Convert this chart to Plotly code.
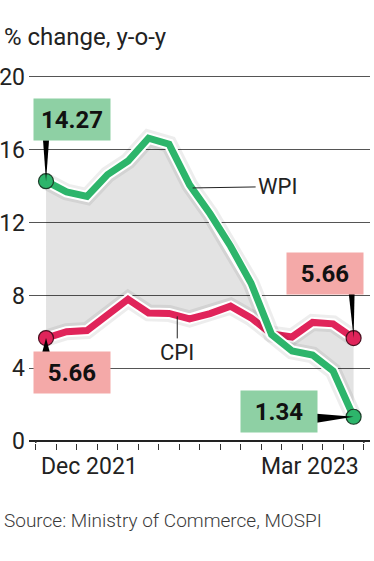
import plotly.graph_objects as go

months = ["Dec 2021", "Jan 2022", "Feb 2022", "Mar 2022", "Apr 2022", "May 2022", "Jun 2022",
          "Jul 2022", "Aug 2022", "Sep 2022", "Oct 2022", "Nov 2022", "Dec 2022",
          "Jan 2023", "Feb 2023", "Mar 2023"]
wpi = [14.27, 13.68, 13.43, 14.63, 15.38, 16.63, 16.3, 14.07, 12.48, 10.7, 8.67, 5.85, 4.95, 4.73, 3.85, 1.34]
cpi = [5.66, 6.01, 6.07, 6.95, 7.79, 7.04, 7.01, 6.71, 7.0, 7.41, 6.77, 5.88, 5.72, 6.52, 6.44, 5.66]
y_ticks = [0, 4, 8, 12, 16, 20]
x_labels = ["Dec 2021", "Mar 2023"]

FONT = "Roboto, Arial, sans-serif"
GREEN = "#2db56b"
RED = "#e0245a"
GREEN_BOX = "#8ed0a4"
RED_BOX = "#f4a9a8"

idx = list(range(len(months)))
n = len(months)

fig = go.Figure()

# fill between the two series
fig.add_trace(go.Scatter(x=idx, y=wpi, mode="lines", line=dict(width=0), hoverinfo="skip", showlegend=False))
fig.add_trace(go.Scatter(x=idx, y=cpi, mode="lines", line=dict(width=0), fill="tonexty",
                         fillcolor="rgba(0,0,0,0.11)", hoverinfo="skip", showlegend=False))

# shadows, outlines, lines
for series, col in [(cpi, RED), (wpi, GREEN)]:
    fig.add_trace(go.Scatter(x=idx, y=series, mode="lines", line=dict(width=17, color="rgba(0,0,0,0.07)"),
                             hoverinfo="skip", showlegend=False))
    fig.add_trace(go.Scatter(x=idx, y=series, mode="lines", line=dict(width=11, color="white"),
                             hoverinfo="skip", showlegend=False))
    fig.add_trace(go.Scatter(x=idx, y=series, mode="lines", line=dict(width=7, color=col),
                             hoverinfo="skip", showlegend=False))

# axis end bars (below the zero line)
for xv in [-0.5, n - 0.5]:
    fig.add_trace(go.Scatter(x=[xv, xv], y=[0, -2.4], mode="lines", line=dict(width=1.5, color="#333"),
                             cliponaxis=False, hoverinfo="skip", showlegend=False))

# pointers (triangles in pixel space anchored at the data points)
pointers = [
    (0, wpi[0], "M -3 41 L 3 41 L 0 0 Z"),
    (0, cpi[0], "M -4 -15 L 4 -15 L 0 0 Z"),
    (n - 1, cpi[-1], "M -5 46 L 1 46 L 0 0 Z"),
    (n - 1, wpi[-1], "M -37 3 L -37 -6 L 0 0 Z"),
]
for xv, yv, p in pointers:
    fig.add_shape(type="path", xref="x", yref="y", xsizemode="pixel", ysizemode="pixel",
                  xanchor=xv, yanchor=yv, path=p, fillcolor="black", line=dict(width=0))

# end markers
fig.add_trace(go.Scatter(x=[0, n - 1], y=[wpi[0], wpi[-1]], mode="markers",
                         marker=dict(size=15, color=GREEN, line=dict(width=1.2, color="#1b3d28")),
                         cliponaxis=False, hoverinfo="skip", showlegend=False))
fig.add_trace(go.Scatter(x=[0, n - 1], y=[cpi[0], cpi[-1]], mode="markers",
                         marker=dict(size=15, color=RED, line=dict(width=1.2, color="#4a1020")),
                         cliponaxis=False, hoverinfo="skip", showlegend=False))

# value boxes
boxes = [
    (0, wpi[0], wpi[0], GREEN_BOX, 26, 62),
    (0, cpi[0], cpi[0], RED_BOX, 26, -34),
    (n - 1, cpi[-1], cpi[-1], RED_BOX, -29, 65),
    (n - 1, wpi[-1], wpi[-1], GREEN_BOX, -75, 5),
]
for xv, yv, val, bg, xs, ys in boxes:
    fig.add_annotation(x=xv, y=yv, text=f"<b>{val:.2f}</b>", showarrow=False, xshift=xs, yshift=ys,
                       width=76, height=41, bgcolor=bg, borderpad=0,
                       font=dict(family=FONT, size=24, color="#111"))

# series labels with leader lines
fig.add_annotation(x=7.15, y=13.9, xref="x", yref="y", text="WPI", showarrow=True,
                   ax=63, ay=-1, axref="pixel", ayref="pixel", arrowhead=0, arrowwidth=1,
                   arrowcolor="#222", standoff=0, startstandoff=0, xanchor="left",
                   font=dict(family=FONT, size=22, color="#222"))
fig.add_annotation(x=6.4, y=6.85, xref="x", yref="y", text="CPI", showarrow=True,
                   ax=0, ay=22, arrowhead=0, arrowwidth=1, arrowcolor="#222", standoff=0,
                   yanchor="top", font=dict(family=FONT, size=22, color="#222"))

# x labels
fig.add_annotation(x=-0.5, y=0, xref="x", yref="y", text=x_labels[0], showarrow=False,
                   xanchor="left", yanchor="top", xshift=3, yshift=-10,
                   font=dict(family=FONT, size=23, color="#222"))
fig.add_annotation(x=n - 0.5, y=0, xref="x", yref="y", text=x_labels[1], showarrow=False,
                   xanchor="right", yanchor="top", xshift=-3, yshift=-10,
                   font=dict(family=FONT, size=23, color="#222"))

# title and source
fig.add_annotation(x=0, y=1, xref="paper", yref="paper", xanchor="left", yanchor="bottom",
                   text="% change, y-o-y", showarrow=False, xshift=-27, yshift=22,
                   font=dict(family=FONT, size=24, color="#222"))
fig.add_annotation(x=0, y=0, xref="paper", yref="paper", xanchor="left", yanchor="top",
                   text="Source: Ministry of Commerce, MOSPI", showarrow=False, xshift=-27, yshift=-64,
                   font=dict(family=FONT, size=19, color="#3a3a3a", weight=300))

fig.update_layout(
    width=374, height=561,
    margin=dict(l=29, r=4, t=75, b=118),
    paper_bgcolor="white", plot_bgcolor="white",
    xaxis=dict(range=[-0.83, 15.8], tickvals=[i + 0.5 for i in range(-1, n)], ticktext=[""] * (n + 1),
               ticks="outside", ticklen=6, tickwidth=1, tickcolor="#333", showgrid=False,
               zeroline=False, showline=False, fixedrange=True, automargin=False),
    yaxis=dict(range=[-0.1, 20.1], tickvals=y_ticks, ticks="", showgrid=True, gridcolor="#555",
               gridwidth=1.3, zeroline=True, zerolinecolor="#222", zerolinewidth=1.5,
               tickfont=dict(family=FONT, size=23, color="#222"), ticklabelstandoff=3,
               showline=False, fixedrange=True, automargin=False),
    showlegend=False,
)

# remove the browser's default 8px body margin so the figure fills the window exactly
fig.write_html("out.html", config={"displayModeBar": False},
               post_script="document.body.style.margin='0';document.body.style.overflow='hidden';")
